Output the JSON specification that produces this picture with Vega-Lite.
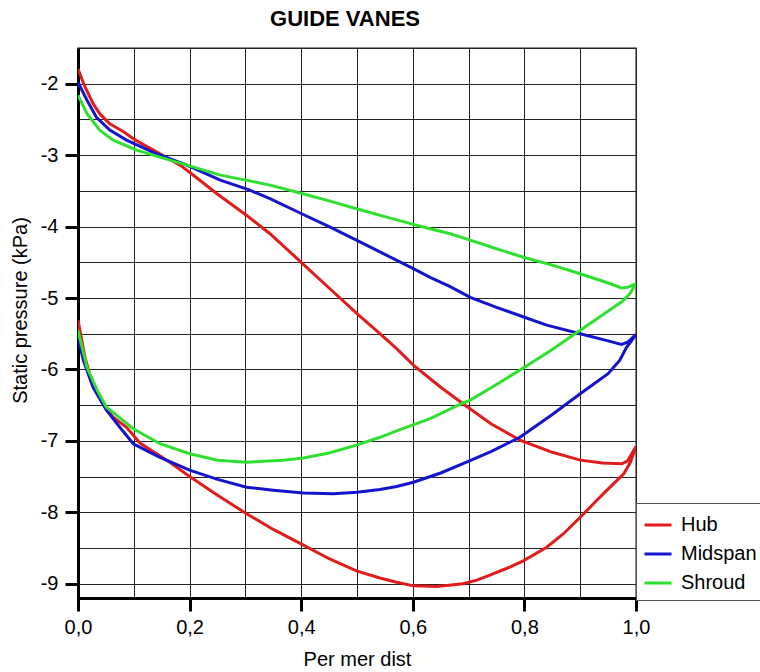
{
  "$schema": "https://vega.github.io/schema/vega-lite/v6.json",
  "width": 558,
  "height": 550,
  "autosize": {"type": "none"},
  "padding": {"left": 78, "top": 48, "right": 124, "bottom": 74},
  "background": "white",
  "config": {
    "font": "Liberation Sans",
    "view": {"stroke": "#666", "strokeWidth": 1.5},
    "title": {"fontSize": 22, "fontWeight": "bold", "color": "black", "offset": 7, "dx": -12}
  },
  "title": "GUIDE VANES",
  "data": {"values": [
    {"s":"Hub","i":0,"x":0,"y":-1.79},{"s":"Hub","i":1,"x":0.01,"y":-2.0},{"s":"Hub","i":2,"x":0.027,"y":-2.28},{"s":"Hub","i":3,"x":0.04,"y":-2.43},{"s":"Hub","i":4,"x":0.057,"y":-2.56},{"s":"Hub","i":5,"x":0.07,"y":-2.62},{"s":"Hub","i":6,"x":0.081,"y":-2.67},{"s":"Hub","i":7,"x":0.099,"y":-2.77},{"s":"Hub","i":8,"x":0.135,"y":-2.93},{"s":"Hub","i":9,"x":0.183,"y":-3.14},{"s":"Hub","i":10,"x":0.2,"y":-3.24},{"s":"Hub","i":11,"x":0.249,"y":-3.54},{"s":"Hub","i":12,"x":0.3,"y":-3.83},{"s":"Hub","i":13,"x":0.344,"y":-4.1},{"s":"Hub","i":14,"x":0.4,"y":-4.5},{"s":"Hub","i":15,"x":0.45,"y":-4.86},{"s":"Hub","i":16,"x":0.5,"y":-5.22},{"s":"Hub","i":17,"x":0.541,"y":-5.5},{"s":"Hub","i":18,"x":0.571,"y":-5.71},{"s":"Hub","i":19,"x":0.601,"y":-5.94},{"s":"Hub","i":20,"x":0.65,"y":-6.25},{"s":"Hub","i":21,"x":0.69,"y":-6.48},{"s":"Hub","i":22,"x":0.74,"y":-6.76},{"s":"Hub","i":23,"x":0.792,"y":-6.99},{"s":"Hub","i":24,"x":0.85,"y":-7.16},{"s":"Hub","i":25,"x":0.9,"y":-7.27},{"s":"Hub","i":26,"x":0.94,"y":-7.31},{"s":"Hub","i":27,"x":0.975,"y":-7.32},{"s":"Hub","i":28,"x":0.985,"y":-7.28},{"s":"Hub","i":29,"x":1.0,"y":-7.08},
    {"s":"Hub","i":30,"x":0.99,"y":-7.3},{"s":"Hub","i":31,"x":0.978,"y":-7.46},{"s":"Hub","i":32,"x":0.965,"y":-7.56},{"s":"Hub","i":33,"x":0.948,"y":-7.69},{"s":"Hub","i":34,"x":0.925,"y":-7.87},{"s":"Hub","i":35,"x":0.9,"y":-8.07},{"s":"Hub","i":36,"x":0.87,"y":-8.3},{"s":"Hub","i":37,"x":0.84,"y":-8.49},{"s":"Hub","i":38,"x":0.798,"y":-8.68},{"s":"Hub","i":39,"x":0.77,"y":-8.78},{"s":"Hub","i":40,"x":0.738,"y":-8.88},{"s":"Hub","i":41,"x":0.715,"y":-8.95},{"s":"Hub","i":42,"x":0.69,"y":-9.0},{"s":"Hub","i":43,"x":0.643,"y":-9.04},{"s":"Hub","i":44,"x":0.601,"y":-9.03},{"s":"Hub","i":45,"x":0.571,"y":-8.98},{"s":"Hub","i":46,"x":0.541,"y":-8.92},{"s":"Hub","i":47,"x":0.499,"y":-8.82},{"s":"Hub","i":48,"x":0.45,"y":-8.65},{"s":"Hub","i":49,"x":0.404,"y":-8.46},{"s":"Hub","i":50,"x":0.35,"y":-8.24},{"s":"Hub","i":51,"x":0.302,"y":-8.02},{"s":"Hub","i":52,"x":0.25,"y":-7.76},{"s":"Hub","i":53,"x":0.2,"y":-7.5},{"s":"Hub","i":54,"x":0.159,"y":-7.27},{"s":"Hub","i":55,"x":0.129,"y":-7.12},{"s":"Hub","i":56,"x":0.111,"y":-7.03},{"s":"Hub","i":57,"x":0.087,"y":-6.81},{"s":"Hub","i":58,"x":0.063,"y":-6.67},{"s":"Hub","i":59,"x":0.045,"y":-6.48},{"s":"Hub","i":60,"x":0.024,"y":-6.15},{"s":"Hub","i":61,"x":0.0125,"y":-5.83},{"s":"Hub","i":62,"x":0,"y":-5.31},
    {"s":"Midspan","i":0,"x":0,"y":-1.98},{"s":"Midspan","i":1,"x":0.016,"y":-2.23},{"s":"Midspan","i":2,"x":0.033,"y":-2.47},{"s":"Midspan","i":3,"x":0.057,"y":-2.65},{"s":"Midspan","i":4,"x":0.087,"y":-2.79},{"s":"Midspan","i":5,"x":0.135,"y":-2.96},{"s":"Midspan","i":6,"x":0.195,"y":-3.14},{"s":"Midspan","i":7,"x":0.255,"y":-3.35},{"s":"Midspan","i":8,"x":0.308,"y":-3.49},{"s":"Midspan","i":9,"x":0.344,"y":-3.61},{"s":"Midspan","i":10,"x":0.398,"y":-3.81},{"s":"Midspan","i":11,"x":0.45,"y":-4.0},{"s":"Midspan","i":12,"x":0.499,"y":-4.19},{"s":"Midspan","i":13,"x":0.55,"y":-4.39},{"s":"Midspan","i":14,"x":0.601,"y":-4.59},{"s":"Midspan","i":15,"x":0.631,"y":-4.71},{"s":"Midspan","i":16,"x":0.667,"y":-4.84},{"s":"Midspan","i":17,"x":0.703,"y":-4.99},{"s":"Midspan","i":18,"x":0.75,"y":-5.13},{"s":"Midspan","i":19,"x":0.8,"y":-5.27},{"s":"Midspan","i":20,"x":0.84,"y":-5.38},{"s":"Midspan","i":21,"x":0.9,"y":-5.5},{"s":"Midspan","i":22,"x":0.95,"y":-5.6},{"s":"Midspan","i":23,"x":0.974,"y":-5.65},{"s":"Midspan","i":24,"x":0.985,"y":-5.62},{"s":"Midspan","i":25,"x":1.0,"y":-5.51},
    {"s":"Midspan","i":26,"x":0.99,"y":-5.62},{"s":"Midspan","i":27,"x":0.983,"y":-5.69},{"s":"Midspan","i":28,"x":0.971,"y":-5.87},{"s":"Midspan","i":29,"x":0.95,"y":-6.06},{"s":"Midspan","i":30,"x":0.9,"y":-6.34},{"s":"Midspan","i":31,"x":0.85,"y":-6.63},{"s":"Midspan","i":32,"x":0.792,"y":-6.95},{"s":"Midspan","i":33,"x":0.74,"y":-7.15},{"s":"Midspan","i":34,"x":0.69,"y":-7.32},{"s":"Midspan","i":35,"x":0.65,"y":-7.45},{"s":"Midspan","i":36,"x":0.601,"y":-7.58},{"s":"Midspan","i":37,"x":0.571,"y":-7.64},{"s":"Midspan","i":38,"x":0.541,"y":-7.68},{"s":"Midspan","i":39,"x":0.5,"y":-7.72},{"s":"Midspan","i":40,"x":0.458,"y":-7.74},{"s":"Midspan","i":41,"x":0.404,"y":-7.73},{"s":"Midspan","i":42,"x":0.35,"y":-7.69},{"s":"Midspan","i":43,"x":0.302,"y":-7.65},{"s":"Midspan","i":44,"x":0.25,"y":-7.54},{"s":"Midspan","i":45,"x":0.2,"y":-7.41},{"s":"Midspan","i":46,"x":0.147,"y":-7.23},{"s":"Midspan","i":47,"x":0.129,"y":-7.16},{"s":"Midspan","i":48,"x":0.099,"y":-7.04},{"s":"Midspan","i":49,"x":0.075,"y":-6.81},{"s":"Midspan","i":50,"x":0.051,"y":-6.57},{"s":"Midspan","i":51,"x":0.027,"y":-6.25},{"s":"Midspan","i":52,"x":0.0095,"y":-5.87},{"s":"Midspan","i":53,"x":0,"y":-5.55},
    {"s":"Shroud","i":0,"x":0,"y":-2.16},{"s":"Shroud","i":1,"x":0.016,"y":-2.42},{"s":"Shroud","i":2,"x":0.039,"y":-2.65},{"s":"Shroud","i":3,"x":0.063,"y":-2.79},{"s":"Shroud","i":4,"x":0.105,"y":-2.93},{"s":"Shroud","i":5,"x":0.165,"y":-3.07},{"s":"Shroud","i":6,"x":0.255,"y":-3.28},{"s":"Shroud","i":7,"x":0.308,"y":-3.36},{"s":"Shroud","i":8,"x":0.344,"y":-3.42},{"s":"Shroud","i":9,"x":0.398,"y":-3.53},{"s":"Shroud","i":10,"x":0.45,"y":-3.64},{"s":"Shroud","i":11,"x":0.499,"y":-3.75},{"s":"Shroud","i":12,"x":0.55,"y":-3.86},{"s":"Shroud","i":13,"x":0.601,"y":-3.97},{"s":"Shroud","i":14,"x":0.631,"y":-4.03},{"s":"Shroud","i":15,"x":0.667,"y":-4.1},{"s":"Shroud","i":16,"x":0.703,"y":-4.19},{"s":"Shroud","i":17,"x":0.75,"y":-4.31},{"s":"Shroud","i":18,"x":0.798,"y":-4.43},{"s":"Shroud","i":19,"x":0.85,"y":-4.54},{"s":"Shroud","i":20,"x":0.9,"y":-4.66},{"s":"Shroud","i":21,"x":0.95,"y":-4.79},{"s":"Shroud","i":22,"x":0.974,"y":-4.86},{"s":"Shroud","i":23,"x":0.985,"y":-4.85},{"s":"Shroud","i":24,"x":1.0,"y":-4.8},
    {"s":"Shroud","i":25,"x":0.989,"y":-4.94},{"s":"Shroud","i":26,"x":0.975,"y":-5.05},{"s":"Shroud","i":27,"x":0.96,"y":-5.13},{"s":"Shroud","i":28,"x":0.93,"y":-5.29},{"s":"Shroud","i":29,"x":0.9,"y":-5.45},{"s":"Shroud","i":30,"x":0.85,"y":-5.72},{"s":"Shroud","i":31,"x":0.798,"y":-5.98},{"s":"Shroud","i":32,"x":0.75,"y":-6.21},{"s":"Shroud","i":33,"x":0.703,"y":-6.43},{"s":"Shroud","i":34,"x":0.69,"y":-6.47},{"s":"Shroud","i":35,"x":0.631,"y":-6.69},{"s":"Shroud","i":36,"x":0.571,"y":-6.86},{"s":"Shroud","i":37,"x":0.541,"y":-6.95},{"s":"Shroud","i":38,"x":0.499,"y":-7.06},{"s":"Shroud","i":39,"x":0.45,"y":-7.17},{"s":"Shroud","i":40,"x":0.404,"y":-7.24},{"s":"Shroud","i":41,"x":0.368,"y":-7.27},{"s":"Shroud","i":42,"x":0.302,"y":-7.3},{"s":"Shroud","i":43,"x":0.25,"y":-7.27},{"s":"Shroud","i":44,"x":0.2,"y":-7.18},{"s":"Shroud","i":45,"x":0.147,"y":-7.04},{"s":"Shroud","i":46,"x":0.099,"y":-6.83},{"s":"Shroud","i":47,"x":0.069,"y":-6.64},{"s":"Shroud","i":48,"x":0.051,"y":-6.53},{"s":"Shroud","i":49,"x":0.035,"y":-6.3},{"s":"Shroud","i":50,"x":0.016,"y":-5.97},{"s":"Shroud","i":51,"x":0,"y":-5.45}
  ]},
  "mark": {"type": "line", "strokeWidth": 3, "clip": true},
  "encoding": {
    "x": {
      "field": "x", "type": "quantitative",
      "scale": {"domain": [0, 1], "nice": false, "zero": false},
      "axis": {
        "title": "Per mer dist",
        "values": [0, 0.1, 0.2, 0.3, 0.4, 0.5, 0.6, 0.7, 0.8, 0.9, 1.0],
        "labelExpr": "round(datum.value*10) % 2 === 0 ? replace(format(datum.value, '.1f'), '.', ',') : ''",
        "labelFontSize": 20, "labelColor": "black", "labelPadding": 6, "labelFlush": false, "labelOverlap": false,
        "tickSize": 13, "tickWidth": 3, "tickColor": "black",
        "tickOpacity": {"condition": {"test": "round(datum.value*10) % 2 === 0", "value": 1}, "value": 0},
        "domainColor": "black", "domainWidth": 3,
        "grid": true, "gridColor": "#222", "gridWidth": 1, "gridOpacity": 1,
        "titleFontSize": 20, "titleFontWeight": "normal", "titleColor": "black", "titlePadding": 12
      }
    },
    "y": {
      "field": "y", "type": "quantitative",
      "scale": {"domain": [-9.2, -1.5], "nice": false, "zero": false},
      "axis": {
        "title": "Static pressure (kPa)",
        "values": [-9, -8.5, -8, -7.5, -7, -6.5, -6, -5.5, -5, -4.5, -4, -3.5, -3, -2.5, -2, -1.5],
        "labelExpr": "datum.value % 1 === 0 ? toString(datum.value) : ''",
        "labelFontSize": 20, "labelColor": "black", "labelPadding": 7, "labelFlush": false, "labelOverlap": false,
        "tickSize": 13, "tickWidth": 3, "tickColor": "black",
        "tickOpacity": {"condition": {"test": "datum.value % 1 === 0", "value": 1}, "value": 0},
        "domainColor": "black", "domainWidth": 3,
        "grid": true, "gridColor": "#222", "gridWidth": 1, "gridOpacity": 1,
        "titleFontSize": 20, "titleFontWeight": "normal", "titleColor": "black", "titlePadding": 10, "titleY": 262
      }
    },
    "color": {
      "field": "s", "type": "nominal",
      "scale": {"domain": ["Hub", "Midspan", "Shroud"], "range": ["#e01c1c", "#1414cc", "#30e030"]},
      "legend": {
        "title": null, "orient": "none", "legendX": 558, "legendY": 455,
        "symbolType": "stroke", "symbolSize": 729, "symbolStrokeWidth": 3,
        "labelFontSize": 20, "labelColor": "black", "labelOffset": 8,
        "padding": 7, "rowPadding": 4,
        "strokeColor": "#555", "fillColor": "white"
      }
    },
    "order": {"field": "i", "type": "quantitative"}
  }
}
